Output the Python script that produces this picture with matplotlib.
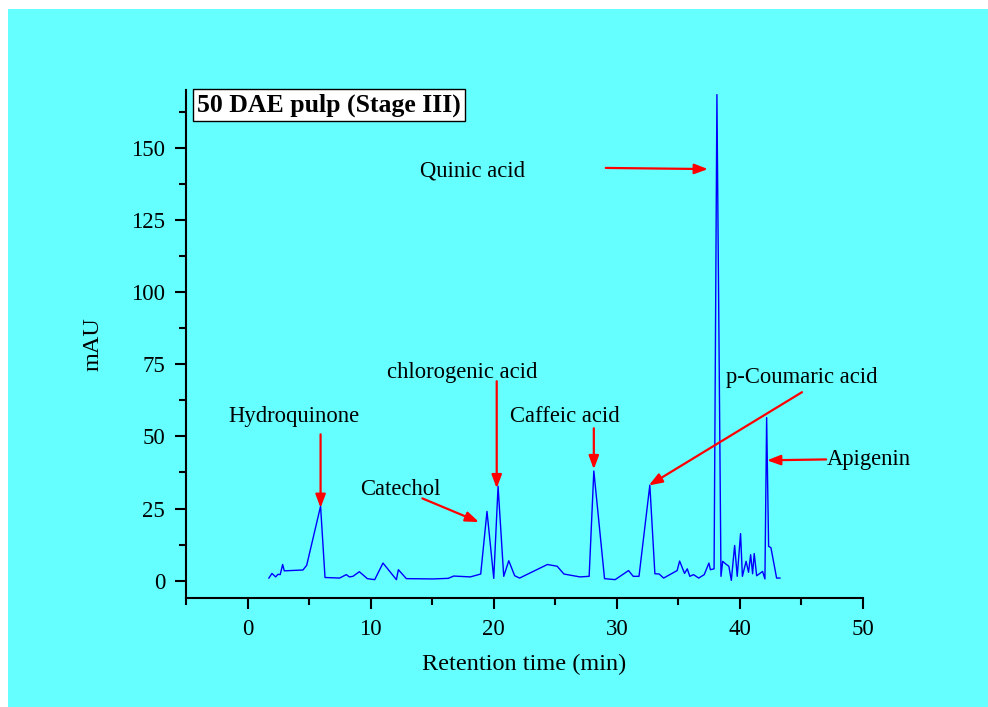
import numpy as np
import matplotlib.pyplot as plt
from matplotlib.patches import Rectangle

# retention time (min) and absorbance (mAU)
rt = [1.73, 1.98, 2.28, 2.47, 2.65, 2.85, 2.98, 4.5, 4.8, 5.93, 6.29, 7.48, 8.02,
      8.27, 8.56, 9.08, 9.73, 10.33, 11.0, 12.09, 12.25, 12.9, 15.07, 16.3, 16.75,
      18.1, 18.94, 19.45, 20.0, 20.35, 20.81, 21.22, 21.7, 22.1, 24.36, 25.15,
      25.7, 27.0, 27.75, 28.13, 29.0, 29.86, 30.95, 31.33, 31.8, 32.68, 33.09,
      33.44, 33.8, 34.9, 35.1, 35.5, 35.72, 35.93, 36.23, 36.65, 37.1, 37.48,
      37.6, 37.9, 38.13, 38.46, 38.6, 38.9, 39.1, 39.3, 39.57, 39.78, 40.05,
      40.2, 40.5, 40.7, 40.87, 41.03, 41.16, 41.36, 41.84, 42.03, 42.17, 42.33,
      42.52, 42.98, 43.25]
mau = [0.9, 2.5, 1.3, 2.2, 2.1, 5.6, 3.4, 3.7, 5.3, 25.8, 1.1, 0.9, 2.1,
       1.3, 1.5, 3.1, 0.7, 0.35, 6.1, 0.35, 3.8, 0.7, 0.6, 0.8, 1.6,
       1.3, 2.3, 24.0, 0.8, 32.7, 1.5, 6.9, 1.7, 0.9, 5.6, 5.0,
       2.3, 1.3, 1.5, 38.0, 0.7, 0.35, 3.5, 1.5, 1.5, 33.1, 2.4,
       2.3, 0.9, 3.5, 6.8, 2.5, 4.1, 1.5, 2.1, 0.9, 2.1, 6.1,
       3.8, 4.1, 168.4, 1.5, 6.7, 5.6, 5.0, 0.1, 12.2, 1.5, 16.3,
       1.5, 6.7, 2.9, 9.0, 2.4, 9.4, 1.7, 3.2, 0.6, 56.5, 11.9,
       11.4, 0.9, 0.9]

# compound labels: (name, text position, arrow tail, arrow head)
names = ["Quinic acid", "Hydroquinone", "chlorogenic acid", "Catechol",
         "Caffeic acid", "p-Coumaric acid", "Apigenin"]
text_xy = [(18.3, 142), (3.8, 57), (17.4, 72), (12.4, 31.5), (25.8, 57),
           (45.0, 70.5), (50.5, 42)]
tail_xy = [(29.1, 143), (5.93, 50.7), (20.24, 69.1), (14.2, 28.5),
           (28.13, 52.8), (45.04, 65.3), (47.0, 42.0)]
head_xy = [(37.4, 142.6), (5.93, 25.2), (20.24, 32.0), (18.8, 20.3),
           (28.13, 38.6), (32.6, 33.0), (42.2, 41.7)]

plt.rcParams['font.family'] = ['Liberation Serif', 'DejaVu Serif']

fig = plt.figure(figsize=(9.88, 7.07), dpi=100, facecolor='white')
fig.patches.append(Rectangle((8 / 988, 0), 1, 1 - 9 / 707, transform=fig.transFigure,
                             facecolor='#66ffff', edgecolor='none', zorder=-10))
ax = fig.add_axes([0.1883, 0.1542, 0.8735 - 0.1883, 0.8727 - 0.1542])
ax.set_facecolor('none')

ax.plot(rt, mau, color='#0000ff', lw=1.0)

for name, t, a, h in zip(names, text_xy, tail_xy, head_xy):
    ax.text(t[0], t[1], name, ha='center', va='center', fontsize=16.3,
            clip_on=False)
    ax.annotate('', xy=h, xytext=a,
                arrowprops=dict(arrowstyle='-|>,head_length=0.8,head_width=0.3',
                                color='red', lw=1.6, shrinkA=0, shrinkB=0),
                annotation_clip=False)

ax.text(0.016, 0.993, "50 DAE pulp (Stage III)", transform=ax.transAxes,
        ha='left', va='top', fontsize=18.5, fontweight='bold',
        bbox=dict(facecolor='white', edgecolor='black', lw=1, pad=3))

ax.set_xlim(-5, 50)
ax.set_ylim(-6, 170)
ax.set_xticks(np.arange(0, 51, 10))
ax.set_xticks(np.arange(-5, 51, 5), minor=True)
ax.set_yticks(np.arange(0, 151, 25))
ax.set_yticks(np.arange(0, 170, 12.5), minor=True)
ax.spines['top'].set_visible(False)
ax.spines['right'].set_visible(False)
ax.spines['left'].set_linewidth(1.5)
ax.spines['bottom'].set_linewidth(1.5)
ax.tick_params(which='major', direction='out', length=8, width=1.5, labelsize=16.5, pad=7)
ax.tick_params(which='minor', direction='out', length=5, width=1.5)

ax.set_xlabel("Retention time (min)", fontsize=17.5, labelpad=10)
ax.set_ylabel("mAU", fontsize=17.5, labelpad=20)

fig.savefig("out.png", dpi=100)
